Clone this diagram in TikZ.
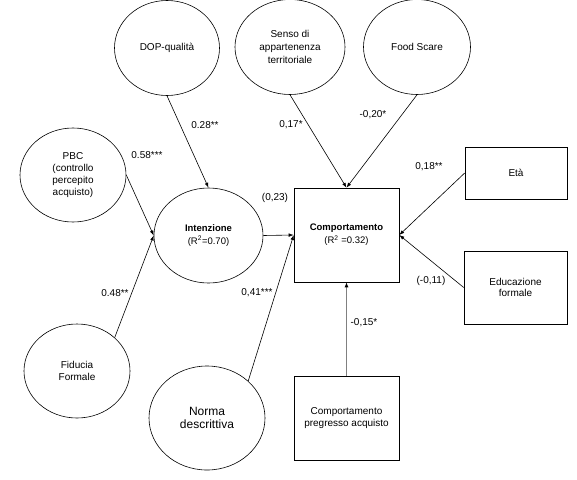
\documentclass[tikz,border=0pt]{standalone}
\usepackage{fontspec}
\setmainfont{Liberation Sans}
\usetikzlibrary{arrows.meta,shapes.geometric}

\begin{document}
\begin{tikzpicture}[x=1pt, y=-1pt, font=\fontsize{10}{12.3}\selectfont, >={Latex[length=5pt,width=3.6pt]}, line width=.6pt,
    latent/.style={draw, ellipse, inner sep=0pt, align=center},
    obs/.style={draw, rectangle, inner sep=0pt, align=center},
    coef/.style={inner sep=0pt}]
    \useasboundingbox (0,0) rectangle (577,479);
    \node[latent, minimum width=105pt, minimum height=95pt] (dop) at (167,48) {DOP-qualità};
    \node[latent, minimum width=110pt, minimum height=95pt, font=\fontsize{10}{13}\selectfont] (senso) at (290,47) {Senso di\\appartenenza\\territoriale};
    \node[latent, minimum width=107pt, minimum height=95pt] (food) at (417,47) {Food Scare};
    \node[latent, minimum width=106pt, minimum height=94pt] (pbc) at (73,175) {PBC\\(controllo\\percepito\\acquisto)};
    \node[latent, minimum width=109pt, minimum height=95pt, font=\fontsize{9.5}{13}\selectfont] (int) at (208.5,235.5) {\textbf{Intenzione}\\(R\textsuperscript{2}=0.70)};
    \node[latent, minimum width=106pt, minimum height=94pt, font=\fontsize{10}{11.5}\selectfont] (fid) at (77,371) {Fiducia\\Formale};
    \node[latent, minimum width=116pt, minimum height=104pt, font=\fontsize{12}{13.5}\selectfont] (norma) at (207,418) {Norma\\descrittiva};
    \node[obs, minimum width=105pt, minimum height=94pt, font=\fontsize{9.5}{13}\selectfont] (comp) at (346.5,235) {\textbf{Comportamento}\\(R\textsuperscript{2} =0.32)};
    \node[obs, minimum width=102pt, minimum height=52pt] (eta) at (516,173) {Età};
    \node[obs, minimum width=103pt, minimum height=73pt, font=\fontsize{10}{11.7}\selectfont] (edu) at (515.5,287.5) {Educazione\\formale};
    \node[obs, minimum width=105pt, minimum height=84pt] (preg) at (346.5,418) {Comportamento\\pregresso acquisto};

    \draw[->] (dop.south) -- (int.north);
    \draw[->] (pbc.east) -- (int.west);
    \draw[->] (fid.north east) -- (int.west);
    \draw[->] (int.east) -- (comp.west);
    \draw[->] (norma.north east) -- (comp.west);
    \draw[->] (senso.south) -- (comp.north);
    \draw[->] (food.south) -- (comp.north);
    \draw[->] (eta.west) -- (comp.east);
    \draw[->] (edu.west) -- (comp.east);
    \draw[-{Latex[length=5pt,width=4pt,black]}, gray, line width=1.1pt] (preg.north) -- (comp.south);

    \node[coef] (c-dop) at (205,125) {0.28**};
    \node[coef] (c-pbc) at (147,155) {0.58***};
    \node[coef] (c-int) at (275,198) {(0,23)};
    \node[coef] (c-senso) at (291,125) {0,17*};
    \node[coef] (c-food) at (373,115) {-0,20*};
    \node[coef] (c-eta) at (429,167) {0,18**};
    \node[coef] (c-edu) at (431,281) {(-0,11)};
    \node[coef] (c-preg) at (364,323) {-0,15*};
    \node[coef] (c-fid) at (115,293) {0.48**};
    \node[coef] (c-norma) at (257,293) {0,41***};
  \end{tikzpicture}
\end{document}
